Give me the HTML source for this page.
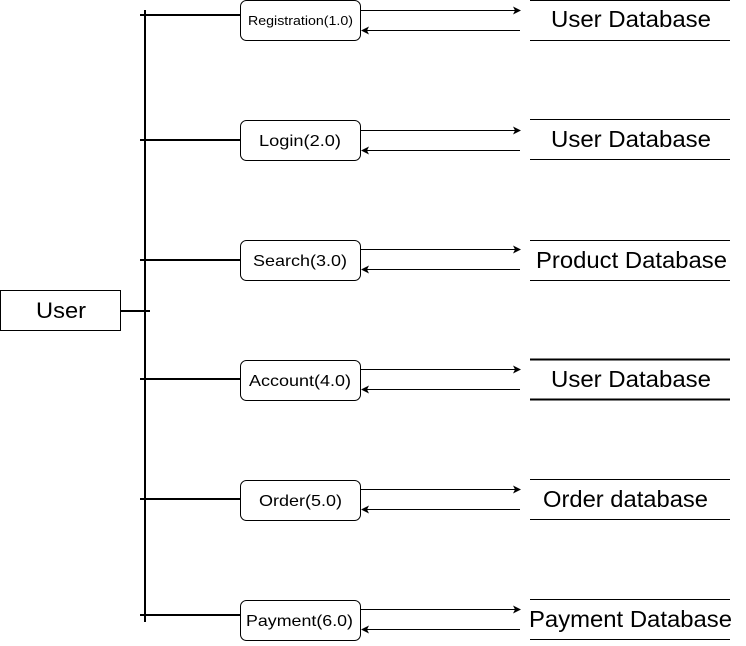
<!DOCTYPE html>
<html><head><style>body{margin:0;background:#fff}</style></head><body>
<svg width="746" height="641" xmlns="http://www.w3.org/2000/svg" font-family="Liberation Sans, sans-serif">
<defs><marker id="a" markerWidth="8" markerHeight="8" refX="7" refY="4" orient="auto" markerUnits="userSpaceOnUse"><path d="M0,0 L8,4 L0,8 L2,4 z" fill="#000"/></marker></defs>
<rect x="0.5" y="290.5" width="120" height="40" fill="#fff" stroke="#000"/>
<text x="36" y="318" font-size="22" textLength="50" lengthAdjust="spacingAndGlyphs">User</text>
<line x1="120" y1="311" x2="150" y2="311" stroke="#000" stroke-width="2"/>
<line x1="145" y1="10" x2="145" y2="622" stroke="#000" stroke-width="2"/>
<g stroke="#000" stroke-width="2">
<line x1="140" y1="15" x2="240" y2="15"/><line x1="140" y1="140" x2="240" y2="140"/>
<line x1="140" y1="260" x2="240" y2="260"/><line x1="140" y1="379" x2="240" y2="379"/>
<line x1="140" y1="499" x2="240" y2="499"/><line x1="140" y1="615" x2="240" y2="615"/>
</g>
<g fill="#fff" stroke="#000">
<rect x="240.5" y="0.5" width="120" height="40" rx="6"/>
<rect x="240.5" y="120.5" width="120" height="40" rx="6"/>
<rect x="240.5" y="240.5" width="120" height="40" rx="6"/>
<rect x="240.5" y="360.5" width="120" height="40" rx="6"/>
<rect x="240.5" y="480.5" width="120" height="40" rx="6"/>
<rect x="240.5" y="600.5" width="120" height="40" rx="6"/>
</g>
<g font-size="16" lengthAdjust="spacingAndGlyphs">
<text x="248" y="25" font-size="13" textLength="105" lengthAdjust="spacingAndGlyphs">Registration(1.0)</text>
<text x="259" y="146" textLength="82" lengthAdjust="spacingAndGlyphs">Login(2.0)</text>
<text x="253" y="266" textLength="94" lengthAdjust="spacingAndGlyphs">Search(3.0)</text>
<text x="249" y="386" textLength="102" lengthAdjust="spacingAndGlyphs">Account(4.0)</text>
<text x="259" y="506" textLength="83" lengthAdjust="spacingAndGlyphs">Order(5.0)</text>
<text x="246" y="626" textLength="107" lengthAdjust="spacingAndGlyphs">Payment(6.0)</text>
</g>
<g stroke="#000" stroke-width="1">
<line x1="361" y1="10.5" x2="520" y2="10.5" marker-end="url(#a)"/><line x1="520" y1="30.5" x2="362" y2="30.5" marker-end="url(#a)"/>
<line x1="361" y1="130.5" x2="520" y2="130.5" marker-end="url(#a)"/><line x1="520" y1="150.5" x2="362" y2="150.5" marker-end="url(#a)"/>
<line x1="361" y1="249.5" x2="520" y2="249.5" marker-end="url(#a)"/><line x1="520" y1="269.5" x2="362" y2="269.5" marker-end="url(#a)"/>
<line x1="361" y1="369.5" x2="520" y2="369.5" marker-end="url(#a)"/><line x1="520" y1="389.5" x2="362" y2="389.5" marker-end="url(#a)"/>
<line x1="361" y1="489.5" x2="520" y2="489.5" marker-end="url(#a)"/><line x1="520" y1="509.5" x2="362" y2="509.5" marker-end="url(#a)"/>
<line x1="361" y1="609.5" x2="520" y2="609.5" marker-end="url(#a)"/><line x1="520" y1="629.5" x2="362" y2="629.5" marker-end="url(#a)"/>
</g>
<g stroke="#000" stroke-width="1">
<line x1="530" y1="0.5" x2="730" y2="0.5"/><line x1="530" y1="40.5" x2="730" y2="40.5"/>
<line x1="530" y1="119.5" x2="730" y2="119.5"/><line x1="530" y1="159.5" x2="730" y2="159.5"/>
<line x1="530" y1="240.5" x2="730" y2="240.5"/><line x1="530" y1="280.5" x2="730" y2="280.5"/>
<line x1="530" y1="359.5" x2="730" y2="359.5" stroke-width="2"/><line x1="530" y1="399.5" x2="730" y2="399.5" stroke-width="2"/>
<line x1="530" y1="479.5" x2="730" y2="479.5"/><line x1="530" y1="519.5" x2="730" y2="519.5"/>
<line x1="530" y1="599.5" x2="730" y2="599.5"/><line x1="530" y1="639.5" x2="730" y2="639.5"/>
</g>
<g font-size="23">
<text x="551" y="27" textLength="160" lengthAdjust="spacingAndGlyphs">User Database</text>
<text x="551" y="147" textLength="160" lengthAdjust="spacingAndGlyphs">User Database</text>
<text x="536" y="268" textLength="191" lengthAdjust="spacingAndGlyphs">Product Database</text>
<text x="551" y="387" textLength="160" lengthAdjust="spacingAndGlyphs">User Database</text>
<text x="543" y="507" textLength="165" lengthAdjust="spacingAndGlyphs">Order database</text>
<text x="529" y="627" textLength="203" lengthAdjust="spacingAndGlyphs">Payment Database</text>
</g>
</svg>
</body></html>
